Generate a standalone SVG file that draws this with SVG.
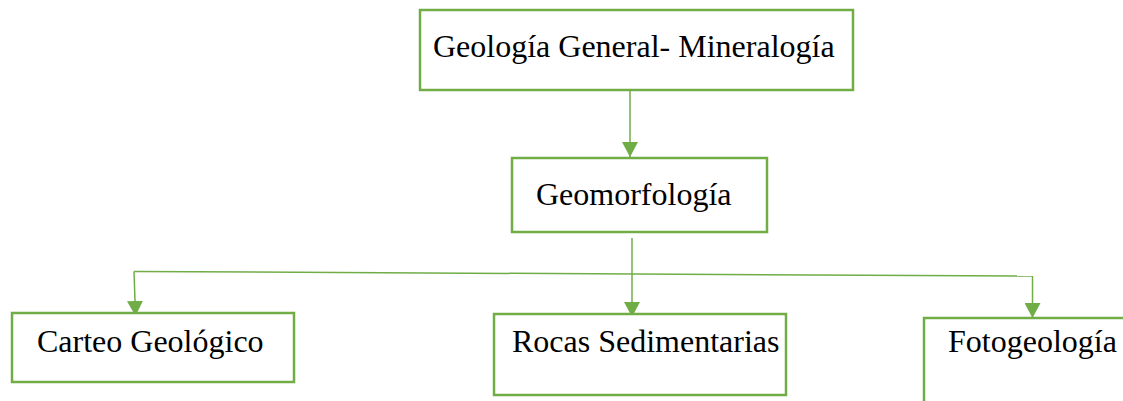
<svg xmlns="http://www.w3.org/2000/svg" width="1123" height="401" viewBox="0 0 1123 401">
<defs>
<marker id="arr" markerWidth="16" markerHeight="16" refX="15" refY="8" orient="auto" markerUnits="userSpaceOnUse">
<path d="M0,0 L15,8 L0,16 Z" fill="#70AD47"/>
</marker>
<style>
.box{fill:#fff;stroke:#70AD47;stroke-width:2.5}
.lbl{font-family:"Liberation Serif","Times New Roman",serif;font-size:32px;fill:#000}
.con{fill:none;stroke:#70AD47;stroke-width:1.5}
</style>
</defs>
<rect width="1123" height="401" fill="#fff"/>
<g id="connectors">
<line class="con" x1="630" y1="91" x2="630" y2="157" marker-end="url(#arr)"/>
<line class="con" x1="632" y1="238" x2="632" y2="317" marker-end="url(#arr)"/>
<line class="con" x1="134" y1="271.5" x2="1033" y2="276"/>
<line class="con" x1="134" y1="271.5" x2="135.5" y2="316" marker-end="url(#arr)"/>
<line class="con" x1="1032.5" y1="276" x2="1032.5" y2="318" marker-end="url(#arr)"/>
</g>
<g id="n1">
<rect class="box" x="420" y="10" width="433" height="80"/>
<text class="lbl" x="433" y="57">Geología General- Mineralogía</text>
</g>
<g id="n2">
<rect class="box" x="512" y="158" width="255" height="74"/>
<text class="lbl" x="536" y="205">Geomorfología</text>
</g>
<g id="n3">
<rect class="box" x="12" y="313" width="282" height="69"/>
<text class="lbl" x="37" y="352">Carteo Geológico</text>
</g>
<g id="n4">
<rect class="box" x="494" y="314" width="292" height="81"/>
<text class="lbl" x="512" y="352">Rocas Sedimentarias</text>
</g>
<g id="n5">
<rect class="box" x="924" y="318" width="220" height="100"/>
<text class="lbl" x="948" y="352">Fotogeología</text>
</g>
</svg>
